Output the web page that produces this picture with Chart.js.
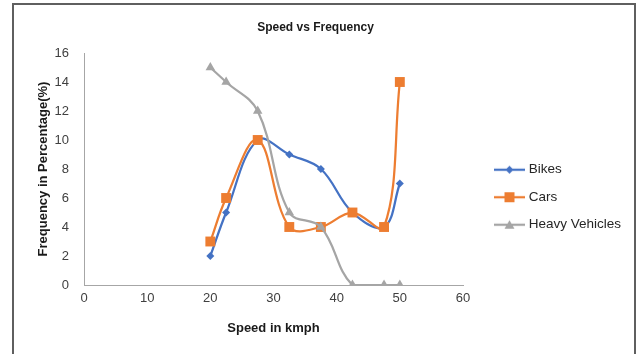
<!DOCTYPE html>
<html>
<head>
<meta charset="utf-8">
<script src="https://cdn.jsdelivr.net/npm/chart.js@4"></script>
<style>
html,body{margin:0;padding:0;background:#fff;overflow:hidden}
#wrap{position:relative;width:637px;height:354px}
#frame{position:absolute;left:12px;top:3px;width:624px;height:400px;border:2px solid #5f5f5f;border-bottom:none;box-sizing:border-box;pointer-events:none}
canvas{position:absolute;left:0;top:0}
</style>
</head>
<body>
<div id="wrap"><canvas id="c" width="637" height="354"></canvas><div id="frame"></div></div>
<script>
const speeds = [20, 22.5, 27.5, 32.5, 37.5, 42.5, 47.5, 50];
const bikes = [2, 5, 10, 9, 8, 5, 4, 7];
const cars = [3, 6, 10, 4, 4, 5, 4, 14];
const heavyVehicles = [15, 14, 12, 5, 4, 0, 0, 0];
const seriesNames = ['Bikes', 'Cars', 'Heavy Vehicles'];
const xTicks = [0, 10, 20, 30, 40, 50, 60];
const yTicks = [0, 2, 4, 6, 8, 10, 12, 14, 16];
const chartTitle = 'Speed vs Frequency';
const xTitle = 'Speed in kmph';
const yTitle = 'Frequency in Percentage(%)';

const colors = ['#4472C4', '#ED7D31', '#A5A5A5'];
const styles = ['rectRot', 'rect', 'triangle'];
const radii = [4, 7, 5.5];

function pts(vals) { return speeds.map((s, i) => ({x: s, y: vals[i]})); }

function legendIcon(color, style) {
  const c = document.createElement('canvas');
  c.width = 31; c.height = 12;
  const g = c.getContext('2d');
  g.strokeStyle = color; g.lineWidth = 2.25;
  g.beginPath(); g.moveTo(0, 6); g.lineTo(31, 6); g.stroke();
  g.fillStyle = color;
  g.beginPath();
  const cx = 15.5, cy = 6;
  if (style === 'rect') { g.rect(cx - 5, cy - 5, 10, 10); }
  else if (style === 'rectRot') { g.moveTo(cx, cy - 4); g.lineTo(cx + 4, cy); g.lineTo(cx, cy + 4); g.lineTo(cx - 4, cy); g.closePath(); }
  else { g.moveTo(cx, cy - 4.5); g.lineTo(cx + 5, cy + 4); g.lineTo(cx - 5, cy + 4); g.closePath(); }
  g.fill();
  return c;
}
const icons = colors.map((c, i) => legendIcon(c, styles[i]));

const seriesValues = [bikes, cars, heavyVehicles];
const datasets = seriesNames.map((n, i) => ({
  label: n,
  data: pts(seriesValues[i]),
  borderColor: colors[i],
  backgroundColor: colors[i],
  borderWidth: 2.25,
  pointStyle: styles[i],
  pointRadius: radii[i],
  pointHoverRadius: radii[i],
  pointBorderWidth: 0,
  tension: 0.38,
  order: 3 - i,
  fill: false
}));

const place = {
  id: 'place',
  afterLayout(chart) {
    const l = chart.legend;
    const w = l.width, h = 200;
    l.left = 483; l.right = 483 + w;
    l.top = 149; l.bottom = 149 + h;
    l.width = w; l.height = h;
    const t = chart.titleBlock;
    if (t) { t.left = 0; t.right = 631; t.width = 631; }
  }
};

const F = 'Liberation Sans';
new Chart(document.getElementById('c'), {
  type: 'line',
  data: { datasets },
  options: {
    responsive: false,
    animation: false,
    devicePixelRatio: 1,
    layout: { padding: { left: 13, right: 174, top: 3, bottom: 10 } },
    plugins: {
      title: {
        display: true, text: chartTitle, color: '#1a1a1a',
        font: { family: F, size: 12, weight: 'bold' },
        padding: { top: 17, bottom: 18.6 }
      },
      legend: {
        position: 'chartArea',
        align: 'start',
        labels: {
          usePointStyle: true,
          pointStyleWidth: 25,
          padding: 14,
          color: '#262626',
          font: { family: F, size: 13.5 },
          sort: (a, b) => a.datasetIndex - b.datasetIndex,
          generateLabels(chart) {
            const items = Chart.defaults.plugins.legend.labels.generateLabels(chart);
            items.forEach(it => { it.pointStyle = icons[it.datasetIndex]; });
            return items;
          }
        }
      },
      tooltip: { enabled: false }
    },
    scales: {
      x: {
        type: 'linear', min: 0, max: 60,
        afterBuildTicks(s) { s.ticks = xTicks.map(v => ({value: v})); },
        afterFit(s) { s.height = 59; },
        grid: { display: false, drawTicks: false },
        border: { display: true, color: '#A6A6A6', width: 1 },
        ticks: { padding: 6, color: '#404040', font: { family: F, size: 13 } },
        title: { display: true, text: xTitle, color: '#1a1a1a', font: { family: F, size: 13, weight: 'bold' }, padding: { top: 4, bottom: 8 } }
      },
      y: {
        type: 'linear', min: 0, max: 16,
        afterBuildTicks(s) { s.ticks = yTicks.map(v => ({value: v})); },
        afterFit(s) { s.width = 71; },
        grid: { display: false, drawTicks: false },
        border: { display: true, color: '#A6A6A6', width: 1 },
        ticks: { padding: 15, color: '#404040', font: { family: F, size: 13 } },
        title: { display: true, text: yTitle, color: '#1a1a1a', font: { family: F, size: 13, weight: 'bold' }, padding: { top: 23, bottom: 4 } }
      }
    }
  },
  plugins: [place]
});
</script>
</body>
</html>
